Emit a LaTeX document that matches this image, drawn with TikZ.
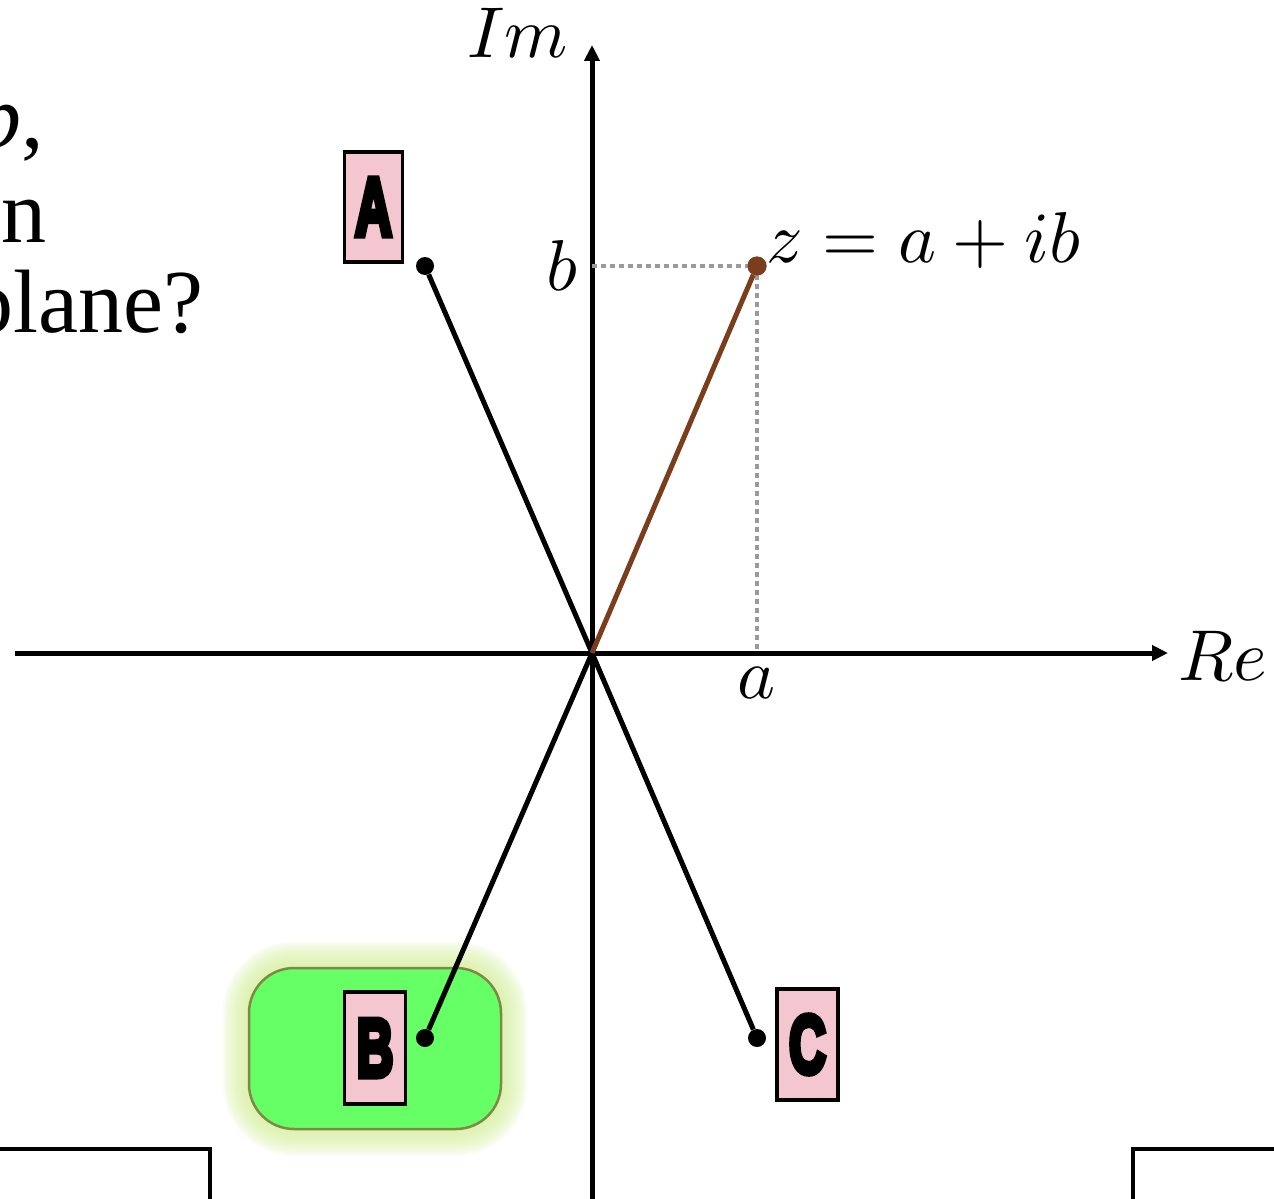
\documentclass[tikz,border=0pt]{standalone}
\usepackage{fontspec}
\usepackage{graphicx}
\newfontfamily\qfont{Liberation Serif}
\newfontfamily\lblfont{Liberation Sans}[BoldFeatures={FakeBold=8}]
\usetikzlibrary{arrows.meta}
\definecolor{lblpink}{HTML}{F4C6CF}
\definecolor{zbrown}{HTML}{7A3E1C}
\definecolor{dotgray}{HTML}{9A9A9A}
\definecolor{selgreen}{HTML}{66FF66}
\definecolor{seledge}{HTML}{7C8A45}
\definecolor{glowcol}{HTML}{D6EFA0}
\newcommand{\bigmath}[1]{\scalebox{7.2}{$#1$}}
\tikzset{
  axisline/.style={line width=5pt, -{Triangle[length=16pt,width=15pt]}},
  ray/.style={line width=5pt, black},
  zray/.style={line width=5pt, zbrown},
  proj/.style={line width=4.5pt, dotgray, dash pattern=on 4.5pt off 4.5pt},
  ptdot/.style={circle, fill=black, minimum size=18pt, inner sep=0pt},
  zdot/.style={circle, fill=zbrown, minimum size=19pt, inner sep=0pt},
  mathlbl/.style={inner sep=0pt},
  qtext/.style={font=\qfont\fontsize{90}{92}\selectfont, inner sep=0pt},
  lblbox/.style={draw=black, line width=3.5pt, fill=lblpink, minimum width=58pt,
    minimum height=110pt, inner sep=0pt, font=\lblfont\bfseries\fontsize{82}{82}\selectfont},
  selbox/.style={draw=seledge, line width=2.5pt, fill=selgreen, rounded corners=45pt,
    minimum width=252pt, minimum height=161pt, inner sep=0pt},
  frame/.style={line width=3.5pt, black}
}
\begin{document}
\begin{tikzpicture}[x=1pt,y=-1pt]
\useasboundingbox (0,0) rectangle (1274,1199);
\clip (0,0) rectangle (1274,1199);

% question text (cut off at the left edge, as in the reference)
\node[qtext, anchor=base east] (q1) at (44,147) {\textit{b},};
\node[qtext, anchor=base east] (q2) at (47,242) {in};
\node[qtext, anchor=base east] (q3) at (204,332) {plane?};

% bottom frames
\draw[frame] (-10,1149) -| (210,1260);
\draw[frame] (1133,1260) |- (1290,1149);

% glow and selection box
\foreach \g in {1,...,14}{
  \fill[glowcol, opacity=0.11, rounded corners={45pt+1.9pt*\g}]
    ({249-1.9*\g},{968-1.9*\g}) rectangle ({501+1.9*\g},{1129+1.9*\g});
}
\node[selbox] (sel) at (375,1048.5) {};

% axes
\coordinate (O) at (592,653);
\coordinate (xl) at (15,653);
\coordinate (xr) at (1168,653);
\coordinate (yb) at (592,1215);
\coordinate (yt) at (592,45);
\draw[axisline] (xl) -- (xr);
\draw[axisline] (yb) -- (yt);
\node[mathlbl, anchor=base east] (im) at (568,58) {\bigmath{Im}};
\node[mathlbl, anchor=base west] (re) at (1178,680) {\bigmath{Re}};

% points
\node[ptdot] (A) at (425,266) {};
\node[ptdot] (B) at (425,1038) {};
\node[ptdot] (C) at (757,1038) {};
\node[zdot] (Z) at (757,266) {};
\coordinate (bb) at (592,266);
\coordinate (aa) at (757,653);

% projections
\draw[proj] (bb) -- (Z.center);
\draw[proj] (Z.center) -- (aa);

% rays
\draw[ray] (O) -- (A);
\draw[ray] (O) -- (B);
\draw[ray] (O) -- (C);
\draw[zray] (O) -- (Z);
\node[zdot] at (Z) {};

% labels
\node[mathlbl, anchor=base east] (lb) at (578,290) {\bigmath{b}};
\node[mathlbl, anchor=base] (la) at (757,698) {\bigmath{a}};
\node[mathlbl, anchor=base west] (lz) at (766,262) {\bigmath{z = a + ib}};

% answer boxes
\node[lblbox] (boxA) at (373.5,207) {\scalebox{0.62}[1]{A}};
\node[lblbox, minimum width=61pt, minimum height=112pt] (boxB) at (375,1048) {\scalebox{0.62}[1]{B}};
\node[lblbox, minimum width=61pt, minimum height=111pt] (boxC) at (807.5,1044.5) {\scalebox{0.62}[1]{C}};
\end{tikzpicture}
\end{document}
